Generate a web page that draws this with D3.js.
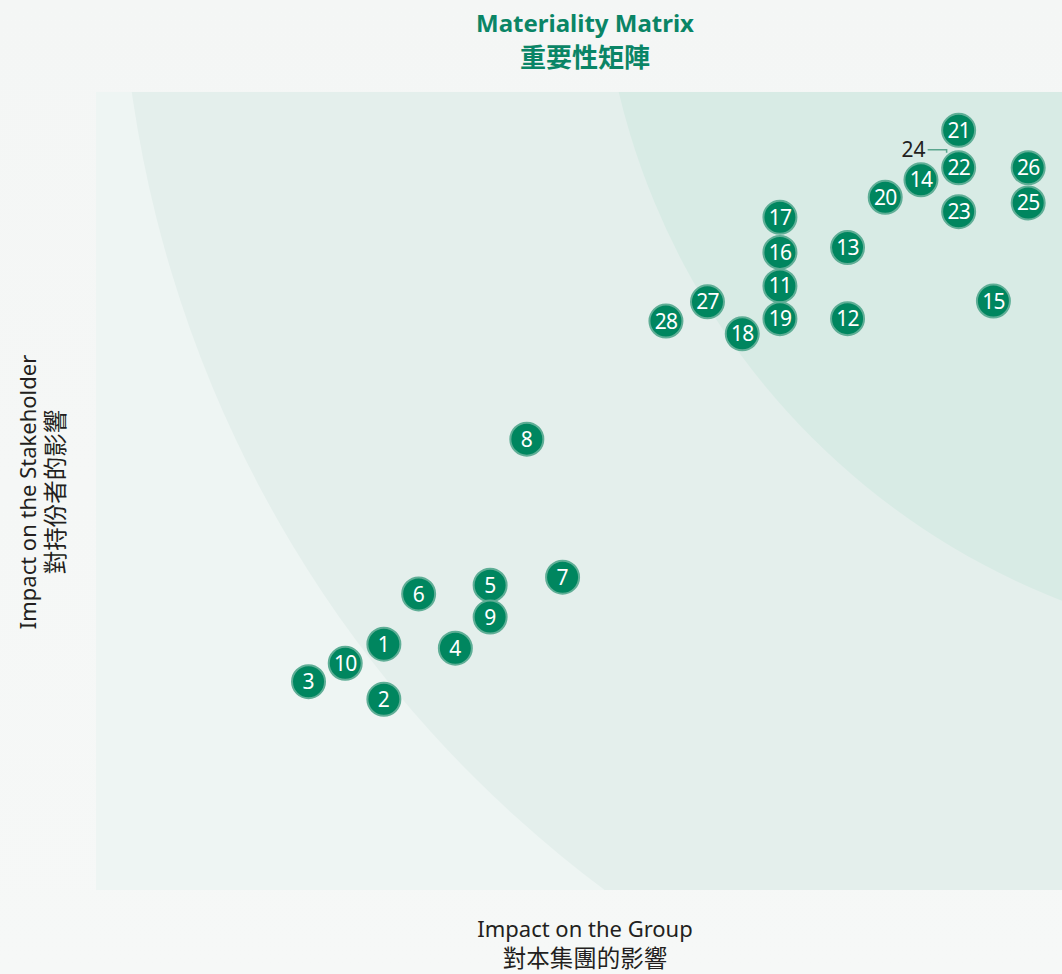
<!DOCTYPE html>
<html><head><meta charset="utf-8">
<script src="https://cdn.jsdelivr.net/npm/d3@7"></script>
<style>
html,body{margin:0;padding:0;background:#f5f7f6;}
svg{display:block;}
</style></head>
<body>
<svg id="chart" width="1062" height="974"></svg>
<script>
// ---- data ----
const ids = ["1","2","3","4","5","6","7","8","9","10","11","12","13","14","15","16","17","18","19","20","21","22","23","24","25","26","27","28"];
const groupImpact = [2.98,2.98,2.20,3.72,4.08,3.34,4.83,4.46,4.08,2.58,7.08,7.78,7.78,8.54,9.29,7.08,7.08,6.69,7.08,8.17,8.93,8.93,8.93,8.93,9.65,9.65,6.33,5.90];
const stakeholderImpact = [3.08,2.39,2.61,3.03,3.82,3.71,3.92,5.65,3.42,2.84,7.57,7.16,8.05,8.90,7.38,7.99,8.43,6.97,7.16,8.68,9.52,9.05,8.50,9.05,8.61,9.05,7.37,7.13];
const calloutIds = ["24"]; // shown as a label with a leader line
const titleLines = ["Materiality Matrix","重要性矩陣"];
const xTitleLines = ["Impact on the Group","對本集團的影響"];
const yTitleLines = ["Impact on the Stakeholder","對持份者的影響"];

const W = 1062, H = 974;
const m = {left:96, right:0, top:92, bottom:84};
const svg = d3.select("#chart");

const x = d3.scaleLinear().domain([0,10]).range([m.left, W - m.right]);
const y = d3.scaleLinear().domain([0,10]).range([H - m.bottom, m.top]);

// background gradient
const defs = svg.append("defs");
const g0 = defs.append("linearGradient").attr("id","bg").attr("x1",0).attr("y1",0).attr("x2",0).attr("y2",1);
g0.append("stop").attr("offset","0%").attr("stop-color","#f4f6f5");
g0.append("stop").attr("offset","100%").attr("stop-color","#f6f8f7");
svg.append("rect").attr("width",W).attr("height",H).attr("fill","url(#bg)");

defs.append("clipPath").attr("id","plotclip").append("rect")
  .attr("x",x(0)).attr("y",y(10)).attr("width",x(10)-x(0)).attr("height",y(0)-y(10));

const plot = svg.append("g").attr("clip-path","url(#plotclip)");
plot.append("rect").attr("x",x(0)).attr("y",y(10)).attr("width",x(10)-x(0)).attr("height",y(0)-y(10)).attr("fill","#eef5f3");
const cx = x(10) + 263, cy = y(10) - 168;
plot.append("circle").attr("cx",cx).attr("cy",cy).attr("r",1205).attr("fill","#e4efec");
plot.append("circle").attr("cx",cx).attr("cy",cy).attr("r",726).attr("fill","#d8ebe5");

const data = ids.map((id,i)=>({id, gx:groupImpact[i], sy:stakeholderImpact[i]}));

// callout
data.filter(d=>calloutIds.includes(d.id)).forEach(d=>{
  const px = x(d.gx), py = y(d.sy);
  svg.append("path").attr("d",`M${px-31},${py-18} H${px-12} V${py-15}`)
    .attr("fill","none").attr("stroke","#5aa58e").attr("stroke-width",1.5);
  svg.append("text").attr("x",px-33).attr("y",py-11).attr("text-anchor","end")
    .attr("font-family","Noto Sans, sans-serif").attr("font-size",21).attr("fill","#231f20").text(d.id);
});

const bub = svg.selectAll("g.b").data(data.filter(d=>!calloutIds.includes(d.id))).join("g")
  .attr("class","b").attr("transform",d=>`translate(${x(d.gx)},${y(d.sy)})`);
bub.append("circle").attr("r",16.5).attr("fill","#00865f").attr("stroke","#5fae96").attr("stroke-width",2);
bub.append("text").attr("text-anchor","middle").attr("dy","0.36em")
  .attr("font-family","Noto Sans, sans-serif").attr("font-size",21).attr("fill","#ffffff")
  .attr("letter-spacing",d=>d.id.length>1?-0.8:0).text(d=>d.id);

// titles
const tc = 585;
svg.append("text").attr("x",tc).attr("y",32).attr("text-anchor","middle")
  .attr("font-family","Noto Sans, sans-serif").attr("font-weight","bold").attr("font-size",24).attr("fill","#0a8566").text(titleLines[0]);
svg.append("text").attr("x",tc).attr("y",67).attr("text-anchor","middle")
  .attr("font-family","Noto Sans CJK TC, sans-serif").attr("font-weight","bold").attr("font-size",26).attr("fill","#0a8566").text(titleLines[1]);

svg.append("text").attr("x",585).attr("y",937).attr("text-anchor","middle")
  .attr("font-family","Noto Sans, sans-serif").attr("font-size",22).attr("fill","#231f20").text(xTitleLines[0]);
svg.append("text").attr("x",585).attr("y",967).attr("text-anchor","middle")
  .attr("font-family","Noto Sans CJK TC, sans-serif").attr("font-size",23.5).attr("fill","#231f20").text(xTitleLines[1]);

const ym = 492;
svg.append("text").attr("transform",`translate(28,${ym}) rotate(-90)`).attr("text-anchor","middle")
  .attr("font-family","Noto Sans, sans-serif").attr("font-size",22).attr("fill","#231f20").attr("dy","0.35em").text(yTitleLines[0]);
svg.append("text").attr("transform",`translate(56,${ym}) rotate(-90)`).attr("text-anchor","middle")
  .attr("font-family","Noto Sans CJK TC, sans-serif").attr("font-size",23.5).attr("fill","#231f20").attr("dy","0.35em").text(yTitleLines[1]);
</script>
</body></html>
